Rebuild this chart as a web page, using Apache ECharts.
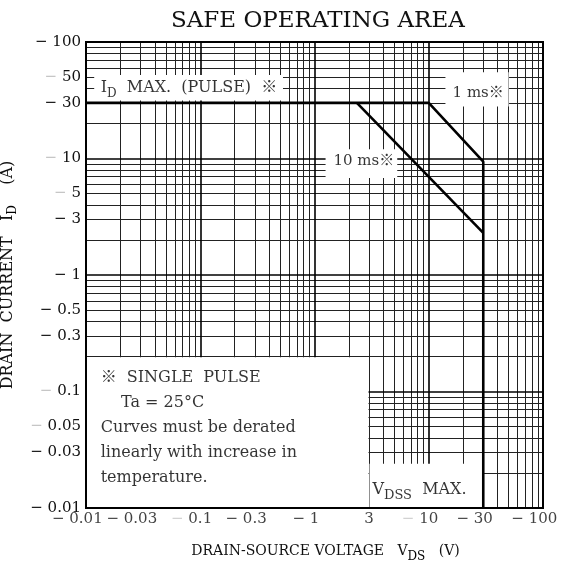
<!DOCTYPE html>
<html>
<head>
<meta charset="utf-8">
<script src="https://cdn.jsdelivr.net/npm/echarts@6/dist/echarts.min.js"></script>
<style>html,body{margin:0;padding:0;background:#fff}#c{width:562px;height:576px}</style>
</head>
<body>
<div id="c"></div>
<script>
// ---- tick labels ----
const xTickValues = [0.01, 0.03, 0.1, 0.3, 1, 3, 10, 30, 100];
const xTickLabels = ['0.01', '0.03', '0.1', '0.3', '1', '3', '10', '30', '100'];
const xTickDash   = ['dark', 'dark', 'faint', 'dark', 'dark', 'none', 'faint', 'dark', 'dark'];
const yTickValues = [0.01, 0.03, 0.05, 0.1, 0.3, 0.5, 1, 3, 5, 10, 30, 50, 100];
const yTickLabels = ['0.01', '0.03', '0.05', '0.1', '0.3', '0.5', '1', '3', '5', '10', '30', '50', '100'];
const yTickDash   = ['dark', 'dark', 'faint', 'faint', 'dark', 'dark', 'dark', 'dark', 'faint', 'faint', 'dark', 'faint', 'dark'];

// ---- log-paper grid values ----
const gridDecades = [0.01, 0.1, 1, 10, 100];
const gridMinor = [0.02, 0.03, 0.04, 0.05, 0.06, 0.07, 0.08, 0.09,
                   0.2, 0.3, 0.4, 0.5, 0.6, 0.7, 0.8, 0.9,
                   2, 3, 4, 5, 6, 7, 8, 9,
                   20, 30, 40, 50, 60, 70, 80, 90];

// ---- SOA curves (V_DS in V, I_D in A) ----
const ms1Voltage  = [0.01, 10, 30, 30];
const ms1Current  = [30, 30, 9.4, 0.01];
const ms10Voltage = [2.35, 30];
const ms10Current = [30, 2.3];

const FONT = "'DejaVu Serif', 'Noto Sans CJK JP', serif";
const INK = '#000';

function zip(a, b) { return a.map((v, i) => [v, b[i]]); }
function findIdx(arr, v) {
  return arr.findIndex(t => Math.abs(Math.log10(t) - Math.log10(v)) < 1e-6);
}

const gridLines = [];
gridMinor.forEach(v => {
  gridLines.push({ xAxis: v, lineStyle: { color: '#222', width: 1, type: 'solid' } });
  gridLines.push({ yAxis: v, lineStyle: { color: '#222', width: 1, type: 'solid' } });
});
gridDecades.forEach(v => {
  gridLines.push({ xAxis: v, lineStyle: { color: '#000', width: 1.6, type: 'solid' } });
  gridLines.push({ yAxis: v, lineStyle: { color: '#000', width: 1.6, type: 'solid' } });
});

const dashRich = {
  dark:  { color: '#111', fontFamily: FONT, fontSize: 15 },
  faint: { color: '#c4c4c4', fontFamily: FONT, fontSize: 15 },
  none:  { color: 'rgba(0,0,0,0)', fontFamily: FONT, fontSize: 15 },
  ghost: { color: 'rgba(0,0,0,0)', fontFamily: FONT, fontSize: 15 },
  n:     { color: '#111', fontFamily: FONT, fontSize: 15 }
};

const textBase = { fontFamily: FONT, fontSize: 15, color: INK };
const textBig = { fontFamily: FONT, fontSize: 16, color: INK };
const subStyle = { fontFamily: FONT, fontSize: 12, color: INK, lineHeight: 13, verticalAlign: 'bottom' };

// x tick label points sit on the bottom edge of the plot (I = axis min)
const xTickPoints = xTickValues.map((v, i) => ({
  value: [v, yTickValues[0]],
  label: {
    formatter: xTickDash[i] === 'none'
      ? '{n|' + xTickLabels[i] + '}'
      : '{' + xTickDash[i] + '|− }{n|' + xTickLabels[i] + '}{ghost|− }'
  }
}));

const chart = echarts.init(document.getElementById('c'), null, { renderer: 'canvas' });
chart.setOption({
  animation: false,
  backgroundColor: '#fff',
  title: {
    text: 'SAFE OPERATING AREA',
    left: 171, top: 10, padding: 0,
    textStyle: { fontFamily: FONT, fontSize: 23, fontWeight: 'normal', color: '#111' }
  },
  grid: {
    left: 86, right: 19, top: 42, bottom: 68,
    outerBoundsMode: 'none', containLabel: false,
    show: true, borderColor: '#000', borderWidth: 2,
    backgroundColor: 'rgba(0,0,0,0)', z: 10
  },
  xAxis: {
    type: 'log', logBase: 10, min: 0.01, max: 100,
    axisLine: { show: false }, axisTick: { show: false }, splitLine: { show: false },
    axisLabel: { show: false },
    name: '{a|DRAIN-SOURCE VOLTAGE   V}{s|DS}{a|   (V)}',
    nameLocation: 'middle', nameGap: 31,
    nameTextStyle: {
      padding: [0, 0, 0, 22],
      rich: {
        a: { fontFamily: FONT, fontSize: 14, color: '#111', lineHeight: 24 },
        s: subStyle
      }
    }
  },
  yAxis: {
    type: 'log', logBase: 10, min: 0.01, max: 100,
    axisLine: { show: false }, axisTick: { show: false }, splitLine: { show: false },
    axisLabel: {
      customValues: yTickValues,
      margin: 5,
      showMinLabel: true, showMaxLabel: true, hideOverlap: false,
      formatter: function (value) {
        const i = findIdx(yTickValues, value);
        if (i < 0) return '';
        return '{' + yTickDash[i] + '|− }{n|' + yTickLabels[i] + '}';
      },
      rich: dashRich
    },
    name: '{a|DRAIN  CURRENT   I}{s|D}{a|    (A)}',
    nameLocation: 'middle', nameGap: 52, nameRotate: 90,
    nameTextStyle: {
      padding: [0, 0, 0, 0],
      rich: {
        a: { fontFamily: FONT, fontSize: 16, color: '#111', lineHeight: 24 },
        s: subStyle
      }
    }
  },
  series: [
    {
      name: 'grid', type: 'line', data: [], z: 1, silent: true,
      markLine: {
        z: 1, silent: true, animation: false, symbol: ['none', 'none'],
        label: { show: false }, emphasis: { disabled: true },
        data: gridLines
      }
    },
    {
      name: 'boxes', type: 'line', data: [], z: 2, silent: true,
      markArea: {
        z: 2, silent: true, animation: false,
        itemStyle: { color: '#fff', borderWidth: 0, opacity: 1 },
        emphasis: { disabled: true },
        data: [
          [{ xAxis: 0.0118, yAxis: 31.5 }, { xAxis: 0.53, yAxis: 52 }],
          [{ xAxis: 14, yAxis: 28 }, { xAxis: 50, yAxis: 55 }],
          [{ xAxis: 1.25, yAxis: 6.8 }, { xAxis: 5.3, yAxis: 12 }],
          [{ xAxis: 0.0101, yAxis: 0.0101 }, { xAxis: 2.97, yAxis: 0.197 }],
          [{ xAxis: 3.03, yAxis: 0.0101 }, { xAxis: 29.5, yAxis: 0.024 }]
        ]
      }
    },
    {
      name: '1 ms', type: 'line', z: 3, symbol: 'none', silent: true,
      lineStyle: { color: '#000', width: 2.6 },
      data: zip(ms1Voltage, ms1Current)
    },
    {
      name: '10 ms', type: 'line', z: 3, symbol: 'none', silent: true,
      lineStyle: { color: '#000', width: 2.6 },
      data: zip(ms10Voltage, ms10Current)
    },
    {
      name: 'xTicks', type: 'scatter', z: 4, silent: true, clip: false,
      symbol: 'circle', symbolSize: 1,
      itemStyle: { color: 'rgba(0,0,0,0)' },
      label: { show: true, position: 'bottom', distance: 3, rich: dashRich },
      data: xTickPoints
    },
    {
      name: 'notes', type: 'scatter', z: 4, silent: true,
      symbol: 'circle', symbolSize: 1,
      itemStyle: { color: 'rgba(0,0,0,0)' },
      label: { show: true, position: 'right', distance: 0 },
      data: [
        {
          value: [0.0133, 40.3],
          label: {
            formatter: '{a|I}{s|D}{a|  MAX.  (PULSE)  ※}',
            rich: { a: Object.assign({ lineHeight: 24 }, textBig), s: subStyle }
          }
        },
        { value: [16, 36.5], label: { formatter: '1 ms※', ...textBase } },
        { value: [1.45, 9.5], label: { formatter: '10 ms※', ...textBase } },
        {
          value: [0.0133, 0.0486],
          label: {
            formatter: '※  SINGLE  PULSE\n    Ta = 25°C\nCurves must be derated\nlinearly with increase in\ntemperature.',
            lineHeight: 25, ...textBig
          }
        },
        {
          value: [3.18, 0.01427],
          label: {
            formatter: '{a|V}{s|DSS}{a|  MAX.}',
            rich: {
              a: Object.assign({ lineHeight: 24 }, textBig),
              s: { fontFamily: FONT, fontSize: 13, color: INK, lineHeight: 14, verticalAlign: 'bottom' }
            }
          }
        }
      ]
    }
  ]
});
</script>
</body>
</html>
